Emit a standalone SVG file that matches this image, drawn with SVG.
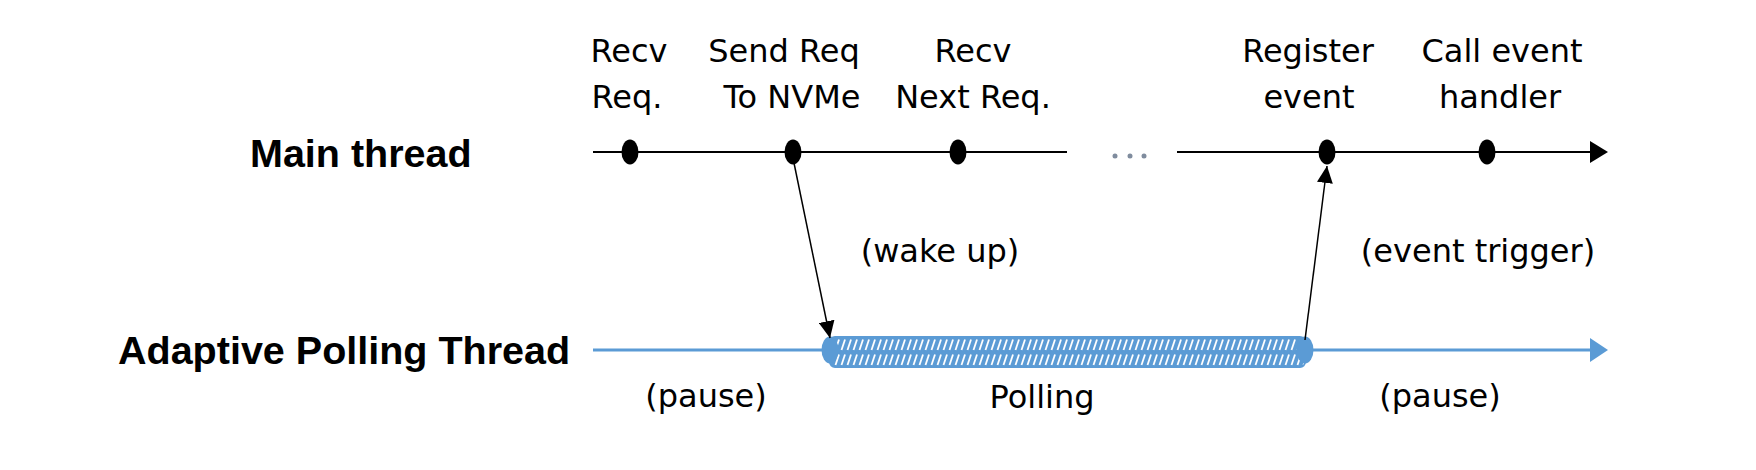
<svg xmlns="http://www.w3.org/2000/svg" width="1756" height="470" viewBox="0 0 1756 470">
<style>
.t{font-family:"DejaVu Sans",Verdana,sans-serif;font-size:32px;fill:#000;text-anchor:middle}
.lbl{font-family:"Liberation Sans",Arial,sans-serif;font-weight:bold;font-size:39.5px;fill:#000}
.blk{stroke:#000;stroke-width:2;fill:none}
.blu{stroke:#5B9BD5;stroke-width:3;fill:none}
.ev{fill:#000}
.bev{fill:#5B9BD5}
.conn{stroke:#000;stroke-width:1.5;fill:none;marker-end:url(#ah)}
</style>
<defs>
<marker id="ah" markerUnits="userSpaceOnUse" markerWidth="18" markerHeight="16" refX="17" refY="8" orient="auto">
<path d="M0,0 L17,8 L0,16 Z" fill="#000"/>
</marker>
<pattern id="hatch" patternUnits="userSpaceOnUse" x="0" y="337" width="6" height="15">
<rect width="6" height="15" fill="#5B9BD5"/>
<line x1="1.5" y1="13" x2="5" y2="2.5" stroke="#fff" stroke-width="1.8"/>
</pattern>
</defs>
<rect width="1756" height="470" fill="#fff"/>
<g id="labels">
<text class="lbl" x="250" y="167">Main thread</text>
<text class="lbl" x="118" y="364">Adaptive Polling Thread</text>
</g>
<g id="main-thread">
<line class="blk" x1="593" y1="152" x2="1067" y2="152"/>
<line class="blk" x1="1177" y1="152" x2="1592" y2="152"/>
<path d="M1590,141 L1608,152 L1590,163 Z" fill="#000"/>
<circle cx="1115" cy="156" r="2.5" fill="#7F8C9E"/>
<circle cx="1130" cy="156" r="2.5" fill="#7F8C9E"/>
<circle cx="1144" cy="156" r="2.5" fill="#7F8C9E"/>
</g>
<g id="polling-thread">
<line class="blu" x1="593" y1="350" x2="1592" y2="350"/>
<path d="M1590,338 L1608,350 L1590,362 Z" fill="#5B9BD5"/>
<rect id="polling-bar" x="830" y="337" width="475" height="30" rx="5" fill="url(#hatch)" stroke="#5B9BD5" stroke-width="2"/>
</g>
<g id="ev-recv"><ellipse class="ev" cx="630" cy="152" rx="8.5" ry="12.5"/><text class="t" x="629" y="62">Recv</text><text class="t" x="627" y="108">Req.</text></g>
<g id="ev-send"><ellipse class="ev" cx="793" cy="152" rx="8.5" ry="12.5"/><text class="t" x="784" y="62">Send Req</text><text class="t" x="792" y="108">To NVMe</text></g>
<g id="ev-next"><ellipse class="ev" cx="958" cy="152" rx="8.5" ry="12.5"/><text class="t" x="973" y="62">Recv</text><text class="t" x="973" y="108">Next Req.</text></g>
<g id="ev-register"><ellipse class="ev" cx="1327" cy="152" rx="8.5" ry="12.5"/><text class="t" x="1308" y="62">Register</text><text class="t" x="1309" y="108">event</text></g>
<g id="ev-call"><ellipse class="ev" cx="1487" cy="152" rx="8.5" ry="12.5"/><text class="t" x="1502" y="62">Call event</text><text class="t" x="1500" y="108">handler</text></g>
<g id="ev-wake"><ellipse class="bev" cx="830" cy="350" rx="8.5" ry="13.5"/></g>
<g id="ev-trigger"><ellipse class="bev" cx="1305" cy="350" rx="8.5" ry="13.5"/></g>
<g id="connectors">
<line class="conn" x1="794" y1="163" x2="830" y2="338"/>
<line class="conn" x1="1305" y1="340" x2="1327" y2="166"/>
</g>
<g id="notes">
<text class="t" x="940" y="262">(wake up)</text>
<text class="t" x="1478" y="262">(event trigger)</text>
<text class="t" x="706" y="407">(pause)</text>
<text class="t" x="1042" y="408">Polling</text>
<text class="t" x="1440" y="407">(pause)</text>
</g>
</svg>
